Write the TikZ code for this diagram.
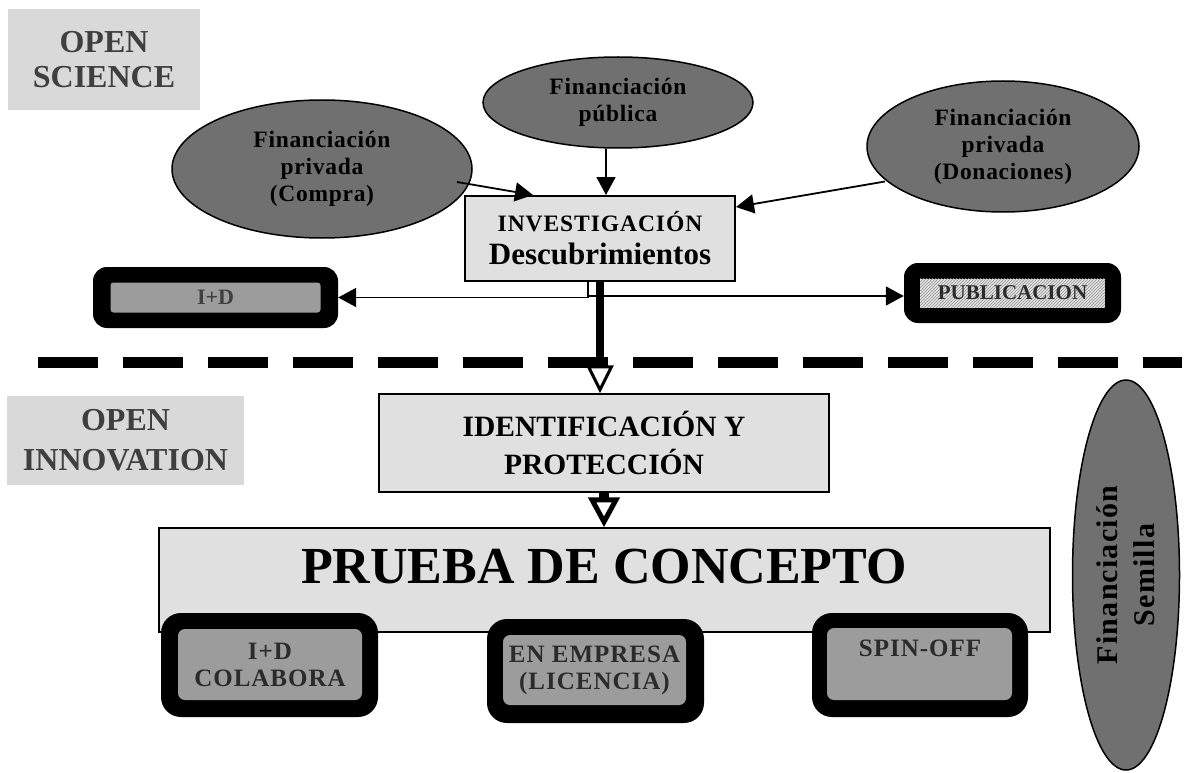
\documentclass[tikz,border=0pt]{standalone}
\usepackage{fontspec}
\setmainfont{Liberation Serif}
\newfontfamily\spacedA[LetterSpace=3]{Liberation Serif}
\newfontfamily\spacedB[LetterSpace=4]{Liberation Serif}
\usetikzlibrary{shapes.geometric, arrows.meta, calc, patterns}

\definecolor{boxgray}{HTML}{E0E0E0}
\definecolor{labelbg}{HTML}{D9D9D9}
\definecolor{labeltext}{HTML}{3F3F3F}
\definecolor{ellgray}{HTML}{707070}
\definecolor{innergray}{HTML}{9C9C9C}
\definecolor{innertext}{HTML}{2B2B2B}

\tikzset{
  sectionlabel/.style={rectangle, fill=labelbg, text=labeltext, align=center, inner sep=0pt},
  fund/.style={ellipse, draw=black, line width=1.5pt, fill=ellgray, inner sep=0pt, align=center,
    text=black, font=\spacedA\bfseries\fontsize{23.5}{27}\selectfont},
  mainbox/.style={rectangle, draw=black, line width=1.5pt, fill=boxgray, inner sep=0pt, align=center, text=black},
  frame/.style={rectangle, fill=black, rounded corners=20pt, inner sep=0pt},
  innerbox/.style={rectangle, fill=innergray, rounded corners=7pt, inner sep=0pt, align=center,
    text=innertext, font=\spacedB\bfseries\fontsize{25}{27}\selectfont},
  arr/.style={-{Triangle[length=18pt,width=19pt]}, line width=1.8pt},
  bigarr/.style={-{Triangle[length=28pt,width=27pt,fill=white,line width=3pt]}, line width=8pt},
  bigarrb/.style={-{Triangle[length=30pt,width=31pt,fill=white,line width=5pt]}, line width=10pt},
}

\begin{document}
\begin{tikzpicture}[x=1pt,y=-1pt]
\fill[white] (0,0) rectangle (1186,773);
\useasboundingbox (0,0) rectangle (1186,773);

% section labels
\node[sectionlabel, minimum width=192pt, minimum height=101pt,
  font=\bfseries\fontsize{32}{35}\selectfont] (opensci) at (104,59.5) {OPEN\\SCIENCE};
\node[sectionlabel, minimum width=237pt, minimum height=89pt,
  font=\bfseries\fontsize{32}{40}\selectfont] (openinn) at (125.5,440) {OPEN\\INNOVATION};

% funding ellipses
\node[fund, minimum width=300pt, minimum height=138pt] (compra) at (322,169) {Financiación\\privada\\(Compra)};
\node[fund, minimum width=270pt, minimum height=91pt] (publica) at (618,102.5) {Financiación\\pública};
\node[fund, minimum width=272pt, minimum height=131pt] (donac) at (1003,146.5) {Financiación\\privada\\(Donaciones)};

% research box
\node[mainbox, line width=2pt, minimum width=270pt, minimum height=85pt,
  font=\bfseries\fontsize{31}{33}\selectfont] (inv) at (600,238.5)
  {{\spacedB\fontsize{23.5}{23.5}\selectfont INVESTIGACIÓN}\\Descubrimientos};

% top framed boxes
\node[frame, rounded corners=14pt, minimum width=245pt, minimum height=61pt] (idtop) at (215.5,297.5) {};
\node[innerbox, rounded corners=3pt, minimum width=210pt, minimum height=30pt,
  text=labeltext, font=\bfseries\fontsize{22}{22}\selectfont] (idtopin) at (idtop.center) {I+D};
\node[frame, rounded corners=14pt, minimum width=217pt, minimum height=60pt] (pub) at (1012.5,293) {};
\node[innerbox, rounded corners=0pt, minimum width=185pt, minimum height=29pt, fill=gray!22,
  postaction={pattern=north east lines, pattern color=gray!85},
  text=innertext, font=\bfseries\fontsize{21}{21}\selectfont] (pubin) at (pub.center) {PUBLICACION};

% dashed separator
\coordinate (dashL) at (38,362);
\coordinate (dashR) at (1182,362);
\draw[line width=11pt, dash pattern=on 60pt off 25pt] (dashL) -- (dashR);

% lower boxes
\node[mainbox, minimum width=450pt, minimum height=98pt,
  font=\bfseries\fontsize{29.5}{38}\selectfont] (ident) at (604,443) {IDENTIFICACIÓN Y\\PROTECCIÓN};
\node[mainbox, minimum width=891pt, minimum height=104pt] (prueba) at (604.5,580) {};
\node[inner sep=0pt, font=\bfseries\fontsize{52}{52}\selectfont] (pruebatxt) at (604,567) {PRUEBA DE CONCEPTO};

% bottom framed boxes
\node[frame, minimum width=217pt, minimum height=104pt] (colab) at (269.5,665) {};
\node[innerbox, minimum width=184pt, minimum height=71pt] (colabin) at (270,664.5) {I+D\\COLABORA};
\node[frame, minimum width=217pt, minimum height=104pt] (empresa) at (595.5,671) {};
\node[innerbox, minimum width=183pt, minimum height=70pt] (empresain) at (594.5,670) {EN EMPRESA\\(LICENCIA)};
\node[frame, minimum width=216pt, minimum height=104pt] (spin) at (920,665) {};
\node[innerbox, minimum width=185pt, minimum height=72pt] (spinin) at (919.5,664) {};
\node[inner sep=0pt, text=innertext, font=\spacedB\bfseries\fontsize{25}{27}\selectfont] (spintxt) at (920,648) {SPIN-OFF};

% seed funding ellipse
\node[fund, rotate=90, minimum width=390pt, minimum height=107pt,
  font=\spacedB\bfseries\fontsize{30}{37}\selectfont] (semilla) at (1126,575) {Financiación\\Semilla};

% connectors
\draw[arr] ($(compra.center)+(135,13)$) -- ($(inv.north west)+(69,0)$);
\draw[arr] ([xshift=-12pt]publica.south) -- ([xshift=-12pt]publica.south |- inv.north);
\draw[arr] ($(donac.center)+(-118,35)$) -- ([yshift=-12pt]inv.north east);
\coordinate (split) at (588,296);
\draw[arr] (split |- inv.south) |- (idtop.east);
\draw[arr] (split) -- (split -| pub.west);
\draw[bigarr] (inv.south) -- (inv.south |- ident.north);
\draw[bigarrb] (ident.south) -- (ident.south |- prueba.north);
\end{tikzpicture}
\end{document}
